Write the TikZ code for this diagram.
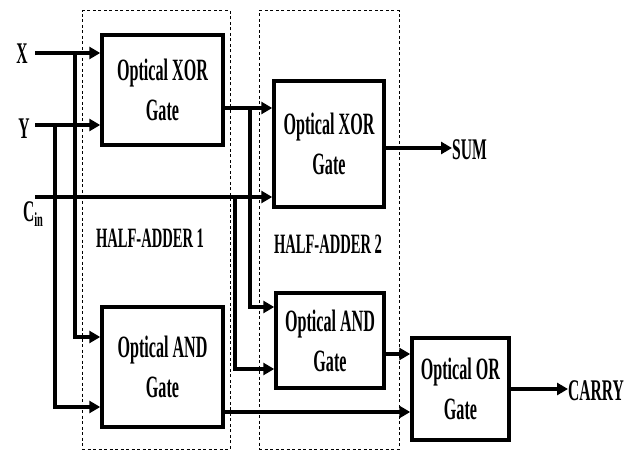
\documentclass[tikz,border=0pt]{standalone}
\usepackage{fontspec}
\newfontfamily\condserif[FakeStretch=0.52]{Liberation Serif}
\usetikzlibrary{arrows.meta}
\tikzset{
  gate/.style={draw, line width=3.5pt, rectangle, inner sep=0pt, align=center,
    font=\condserif\bfseries\fontsize{31}{40}\selectfont},
  lbl/.style={inner sep=0pt, font=\condserif\bfseries\fontsize{30}{30}\selectfont},
  halbl/.style={inner sep=0pt, font=\condserif\bfseries\fontsize{28}{28}\selectfont},
  dashbox/.style={draw, dashed, dash pattern=on 3pt off 2.5pt, line width=1pt, rectangle, inner sep=0pt},
  wire/.style={line width=3.2pt},
  arr/.style={wire, -{Triangle[length=11pt,width=12pt]}},
}
\begin{document}
\begin{tikzpicture}[x=1pt,y=-1pt]
\useasboundingbox (0,0) rectangle (630,452);
% dashed half-adder boxes
\node[dashbox, minimum width=148pt, minimum height=438pt] (ha1) at (156,230) {};
\node[dashbox, minimum width=140pt, minimum height=438pt] (ha2) at (329,230) {};
\node[halbl] (ha1lbl) at (150,238) {HALF-ADDER 1};
\node[halbl] (ha2lbl) at (328,244) {HALF-ADDER 2};
% gates
\node[gate, minimum width=121pt, minimum height=110pt] (xor1) at (162.5,90) {Optical XOR\\Gate};
\node[gate, minimum width=110pt, minimum height=126pt] (xor2) at (329,144) {Optical XOR\\Gate};
\node[gate, minimum width=121pt, minimum height=120pt] (and1) at (162.5,367) {Optical AND\\Gate};
\node[gate, minimum width=108pt, minimum height=95pt] (and2) at (330,340.5) {Optical AND\\Gate};
\node[gate, minimum width=97pt, minimum height=102pt] (or) at (460.5,389) {Optical OR\\Gate};
% labels
\node[lbl] (xl) at (22,54) {X};
\node[lbl] (yl) at (24,129) {Y};
\node[lbl] (cl) at (33,214) {C\raisebox{-0.4ex}{\fontsize{20}{20}\selectfont in}};
\node[lbl, anchor=west] (sum) at (452,150) {SUM};
\node[lbl, anchor=west] (carry) at (568,391) {CARRY};
% coordinates
\coordinate (xin) at (35,53);
\coordinate (yin) at (35,125);
\coordinate (cin) at (35,197);
\coordinate (xb) at (75,53);
\coordinate (yb) at (55,125);
\coordinate (cb) at (235,197);
\coordinate (sb) at (250,108);
\coordinate (x1o) at (223,108);
% wires
\draw[arr] (xin) -- (xin -| xor1.west);
\draw[arr] (yin) -- (yin -| xor1.west);
\draw[arr] (cin) -- (cin -| xor2.west);
\draw[arr] (xb) -- (75,337) -- (and1.west |- 0,337);
\draw[arr] (yb) -- (55,407) -- (and1.west |- 0,407);
\draw[arr] (x1o) -- (x1o -| xor2.west);
\draw[arr] (sb) -- (250,307) -- (and2.west |- 0,307);
\draw[arr] (cb) -- (235,369) -- (and2.west |- 0,369);
\draw[arr] (xor2.east |- 0,148) -- (sum.west |- 0,148);
\draw[arr] (and1.east |- 0,412) -- (or.west |- 0,412);
\draw[arr] (and2.east |- 0,354) -- (or.west |- 0,354);
\draw[arr] (or.east |- 0,389) -- (carry.west |- 0,389);
\end{tikzpicture}
\end{document}
